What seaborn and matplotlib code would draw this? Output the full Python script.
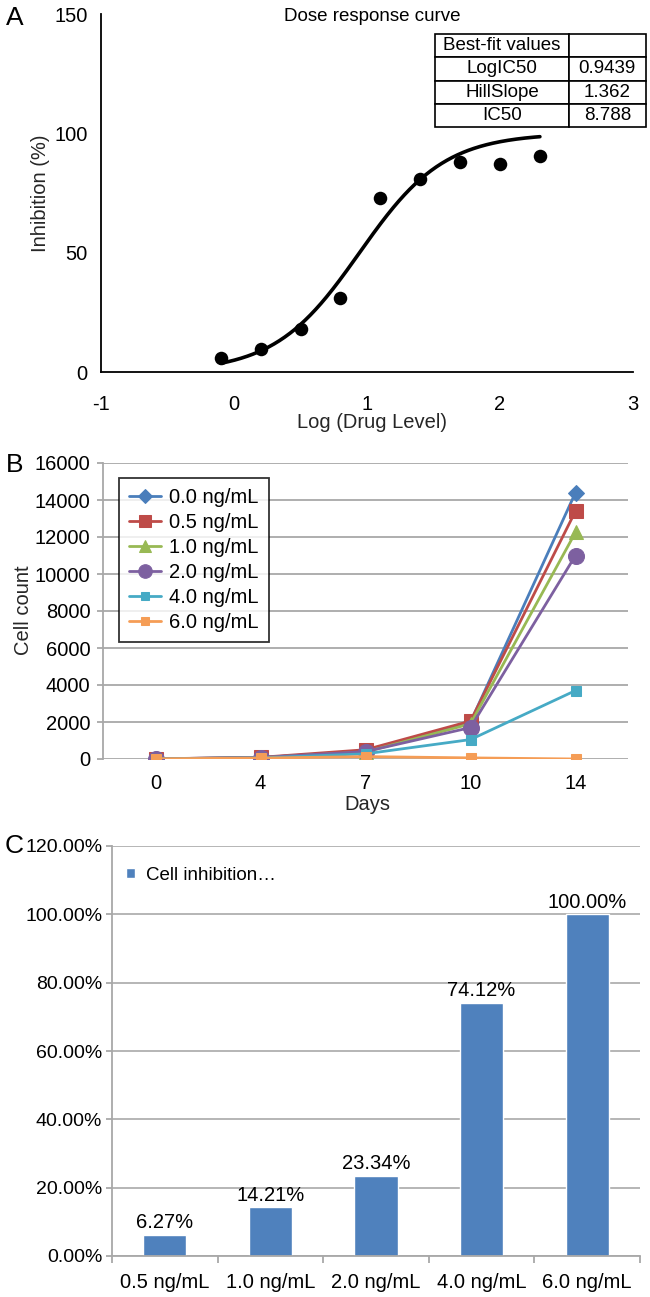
import numpy as np
import pandas as pd
import matplotlib
matplotlib.use("Agg")
import matplotlib.pyplot as plt
import seaborn as sns
from matplotlib.ticker import FixedLocator, FuncFormatter, NullFormatter

# ---------------- Panel A data ----------------
log_dose = [-0.1, 0.2, 0.5, 0.8, 1.1, 1.4, 1.7, 2.0, 2.3]
inhibition = [6.0, 9.5, 18.0, 31.0, 72.7, 81.0, 87.8, 87.0, 90.5]
fit_header = ["Best-fit values", ""]
fit_names = ["LogIC50", "HillSlope", "IC50"]
fit_values = ["0.9439", "1.362", "8.788"]
log_ic50 = 0.9439
hill_slope = 1.362
fit_bottom = 0.0
fit_top = 100.0

# ---------------- Panel B data ----------------
days = ["0", "4", "7", "10", "14"]
conc_labels = ["0.0 ng/mL", "0.5 ng/mL", "1.0 ng/mL", "2.0 ng/mL", "4.0 ng/mL", "6.0 ng/mL"]
count_0_0 = [10, 80, 420, 2000, 14400]
count_0_5 = [10, 90, 500, 2050, 13400]
count_1_0 = [10, 70, 380, 1900, 12250]
count_2_0 = [10, 80, 400, 1700, 11000]
count_4_0 = [10, 60, 280, 1050, 3700]
count_6_0 = [10, 50, 130, 60, 0]

# ---------------- Panel C data ----------------
bar_labels = ["0.5 ng/mL", "1.0 ng/mL", "2.0 ng/mL", "4.0 ng/mL", "6.0 ng/mL"]
cell_inhibition = [0.0627, 0.1421, 0.2334, 0.7412, 1.0]
bar_series_name = "Cell inhibition\u2026"

# ---------------- style ----------------
sns.set_theme(style="white")
plt.rcParams['font.family'] = ['Liberation Sans', 'DejaVu Sans']
plt.rcParams['axes.unicode_minus'] = False
plt.rcParams['text.color'] = 'black'

W, H = 650, 1297
fig = plt.figure(figsize=(W / 100, H / 100), dpi=100)


def ax_rect(x0, x1, ytop, ybot):
    return [x0 / W, 1 - ybot / H, (x1 - x0) / W, (ybot - ytop) / H]


# ======================= Panel A =======================
axA = fig.add_axes(ax_rect(101, 633, 14, 372))
curve_x = np.linspace(min(log_dose), max(log_dose), 300)
curve_y = fit_bottom + (fit_top - fit_bottom) / (1 + 10 ** ((log_ic50 - curve_x) * hill_slope))
sns.lineplot(x=curve_x, y=curve_y, ax=axA, color='black', lw=2.6, sort=False)
sns.scatterplot(x=log_dose, y=inhibition, ax=axA, color='black', s=95,
                edgecolor='black', linewidth=0, zorder=3)
axA.set_xlim(-1, 3)
axA.set_ylim(0, 150)
axA.set_xticks([-1, 0, 1, 2, 3])
axA.set_yticks([0, 50, 100, 150])
for s in ['top', 'right']:
    axA.spines[s].set_visible(False)
for s in ['left', 'bottom']:
    axA.spines[s].set_color('black')
    axA.spines[s].set_linewidth(1.3)
axA.tick_params(axis='both', direction='out', length=4.5, width=1.3, colors='black',
                labelsize=14.5)
axA.tick_params(axis='x', pad=12)
axA.tick_params(axis='y', pad=5)
axA.set_xlabel('Log (Drug Level)', fontsize=14.5)
axA.set_ylabel('Inhibition (%)', fontsize=14.5)
axA.xaxis.set_label_coords(0.51, -0.115)
axA.yaxis.set_label_coords(-0.095, 0.5)
axA.text(0.51, 0.992, 'Dose response curve', transform=axA.transAxes,
         ha='center', va='center', fontsize=13.5)

cell_text = [fit_header] + [[n, v] for n, v in zip(fit_names, fit_values)]
tbl = axA.table(cellText=cell_text, colWidths=[0.635, 0.365],
                bbox=[0.628, 0.684, 0.396, 0.26], cellLoc='center')
tbl.auto_set_font_size(False)
tbl.set_fontsize(13.5)
for (r, c), cell in tbl.get_celld().items():
    cell.set_edgecolor('black')
    cell.set_linewidth(1.2)
    cell.set_facecolor('white')
    if r >= 1 and c == 0:
        cell._loc = 'left'
        cell.PAD = 0.25
    if c == 1:
        cell._loc = 'left'
        cell.PAD = 0.05
    if r == 0 and c == 0:
        cell._loc = 'center'

fig.text(15 / W, 1 - 18 / H, 'A', fontsize=19, ha='center', va='center')

# ======================= Panel B =======================
axB = fig.add_axes(ax_rect(103, 628, 463, 759))
series = [count_0_0, count_0_5, count_1_0, count_2_0, count_4_0, count_6_0]
colors = ['#4A7EBB', '#BE4B48', '#98B954', '#7D60A0', '#46AAC5', '#F59D56']
markers = ['D', 's', '^', 'o', 's', 's']
msizes = [8.5, 10, 10.5, 11.5, 7.5, 7.5]
for lab, vals, col, mk, ms in zip(conc_labels, series, colors, markers, msizes):
    sns.lineplot(x=days, y=vals, ax=axB, color=col, marker=mk, markersize=ms,
                 markeredgecolor=col, lw=2.0, label=lab, sort=False)
axB.set_xlim(-0.5, 4.5)
axB.set_ylim(0, 16000)
axB.set_yticks(np.arange(0, 16001, 2000))
axB.yaxis.grid(True, color='#A8A8A8', lw=1.3)
axB.xaxis.grid(False)
axB.set_axisbelow(True)
for s in ['top', 'right', 'bottom']:
    axB.spines[s].set_visible(False)
axB.spines['left'].set_color('#A8A8A8')
axB.spines['left'].set_linewidth(1.3)
axB.tick_params(axis='y', direction='out', length=4, width=1.3, color='#A8A8A8',
                labelsize=14.5, pad=5, labelcolor='black', left=True)
axB.tick_params(axis='x', length=0, labelsize=14.5, pad=11, labelcolor='black')
axB.set_xlabel('Days', fontsize=14.5)
axB.set_ylabel('Cell count', fontsize=14.5)
axB.xaxis.set_label_coords(0.503, -0.122)
axB.yaxis.set_label_coords(-0.133, 0.503)
legB = axB.legend(loc='upper left', bbox_to_anchor=(0.0305, 0.95), frameon=True,
                  fancybox=False, edgecolor='black', fontsize=14.5, labelspacing=0.3,
                  handlelength=1.6, handletextpad=0.4, borderpad=0.5,
                  borderaxespad=0, markerscale=0.85)
legB.get_frame().set_linewidth(1.3)

fig.text(15 / W, 1 - 465 / H, 'B', fontsize=19, ha='center', va='center')

# ======================= Panel C =======================
axC = fig.add_axes(ax_rect(112, 640, 846, 1256))
sns.barplot(x=bar_labels, y=cell_inhibition, ax=axC, color='#4F81BD', saturation=1,
            width=0.41, label=bar_series_name)
axC.set_xlim(-0.5, 4.5)
axC.set_ylim(0, 1.2)
axC.set_yticks(np.arange(0, 1.21, 0.2))
axC.yaxis.set_major_formatter(FuncFormatter(lambda v, p: f"{v * 100:.2f}%"))
axC.yaxis.grid(True, color='#B0B0B0', lw=1.3)
axC.xaxis.grid(False)
axC.set_axisbelow(True)
for s in ['top', 'right']:
    axC.spines[s].set_visible(False)
for s in ['left', 'bottom']:
    axC.spines[s].set_color('#A8A8A8')
    axC.spines[s].set_linewidth(1.3)
axC.xaxis.set_minor_locator(FixedLocator(np.arange(-0.5, 4.6, 1.0)))
axC.xaxis.set_minor_formatter(NullFormatter())
axC.tick_params(axis='x', which='major', length=0, labelsize=14.5, pad=12, labelcolor='black')
axC.tick_params(axis='x', which='minor', length=5, width=1.3, color='#A8A8A8', bottom=True)
axC.tick_params(axis='y', direction='out', length=4, width=1.3, color='#A8A8A8',
                labelsize=14, pad=3, labelcolor='black', left=True)
axC.set_xlabel('')
axC.set_ylabel('')
for cont in axC.containers:
    axC.bar_label(cont, labels=[f"{v * 100:.2f}%" for v in cell_inhibition],
                  padding=2, fontsize=14.5)
axC.legend(loc='upper left', bbox_to_anchor=(0.0256, 0.95), frameon=False,
           fontsize=13.5, handlelength=0.5, handleheight=0.5, handletextpad=0.6,
           borderpad=0, borderaxespad=0)

fig.text(14 / W, 1 - 846 / H, 'C', fontsize=19, ha='center', va='center')

fig.savefig('out.png', dpi=100)
